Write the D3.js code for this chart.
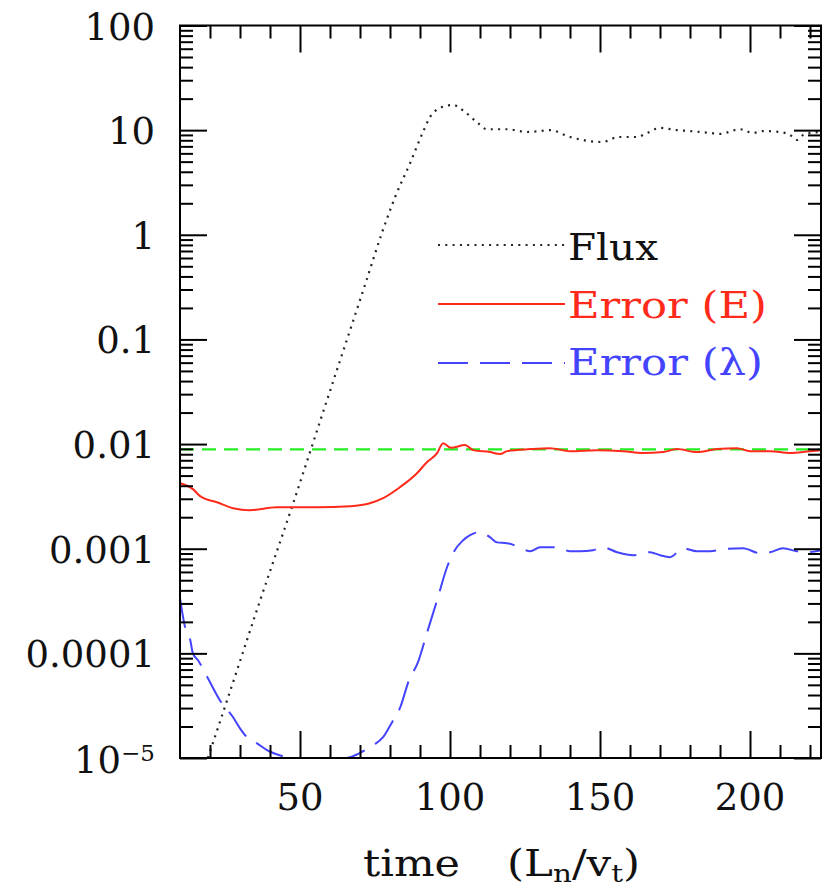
<!DOCTYPE html>
<html>
<head>
<meta charset="utf-8">
<script src="https://cdn.jsdelivr.net/npm/d3@7"></script>
<style>
  html, body { margin: 0; padding: 0; background: #fff; }
  svg { display: block; }
  text { font-family: "DejaVu Serif", serif; }
</style>
</head>
<body>
<svg id="chart" width="823" height="890"></svg>
<script>
// ---------------- data ----------------
const xMajorTicks = [50, 100, 150, 200];
const xMinorTicks = [20, 30, 40, 60, 70, 80, 90, 110, 120, 130, 140, 160, 170, 180, 190, 210, 220];
const yMajorTicks = [1e-5, 1e-4, 1e-3, 1e-2, 1e-1, 1, 10, 100];
const yTickLabels = ["10^-5", "0.0001", "0.001", "0.01", "0.1", "1", "10", "100"];
const thresholdValue = 0.0089;

const seriesNames = ["Flux", "Error (E)", "Error (λ)"];

const fluxT = [19.3, 25.7, 36.7, 47.3, 59, 72.3, 77.3, 81.7, 86.7, 91, 93.3, 96.7, 101, 105, 109, 112.3, 119, 125.7, 130, 133.3, 140, 150.7, 153.3, 155.7, 162.3, 165.7, 170, 175.7, 180, 186.7, 190, 196.7, 201, 204.3, 210, 213.3, 215.7, 217.7, 220, 223.7];
const fluxV = [1e-5, 3.56e-5, 3.2e-4, 0.0025, 0.0263, 0.378, 1.04, 2.29, 4.84, 9.6, 13.3, 16.3, 17.4, 14.9, 11.9, 10.2, 10.2, 9.6, 9.8, 10.0, 8.6, 7.7, 8.05, 8.6, 8.6, 9.4, 10.5, 10.0, 9.8, 9.4, 9.2, 10.2, 9.4, 9.8, 9.6, 9.0, 8.05, 9.0, 9.4, 9.6];

const errET = [10, 14.3, 16.7, 22.3, 27.7, 33.3, 42.3, 55.7, 66.7, 73.3, 77.7, 83.3, 89, 92.3, 95.7, 97.7, 100.3, 105, 107.7, 113.3, 116.7, 119, 126.7, 133.3, 140, 149, 157.7, 164.3, 171, 175.7, 182.3, 189, 195.7, 200, 206.7, 213.3, 220, 223.7];
const errEV = [0.00423, 0.00371, 0.00318, 0.00278, 0.00244, 0.00233, 0.00249, 0.00249, 0.00255, 0.00272, 0.00304, 0.00387, 0.00527, 0.00671, 0.00818, 0.0102, 0.0092, 0.0098, 0.00875, 0.00838, 0.00802, 0.00856, 0.00895, 0.00914, 0.00856, 0.00875, 0.00856, 0.0082, 0.00838, 0.00895, 0.00838, 0.00895, 0.00914, 0.00856, 0.00856, 0.0082, 0.00856, 0.00875];

const errLT = [10, 11.7, 13.3, 14.3, 16, 19.3, 23.3, 27.7, 30, 32.3, 35.7, 39, 44.3, 49.3, 55, 61, 66.7, 71, 74.3, 77.7, 80.7, 83.3, 86.3, 89.3, 92.3, 95.7, 99, 101, 104.3, 106.7, 110, 113.3, 115.7, 119, 123.3, 126.7, 130, 135.7, 140, 143.3, 147.7, 151, 155.7, 161, 166.7, 170, 173.3, 177.7, 182.3, 186.7, 191, 197.7, 203.3, 206.7, 211, 215.7, 219, 223.7];
const errLV = [3.37e-4, 1.78e-4, 1.39e-4, 1.0e-4, 8.6e-5, 5.78e-5, 3.56e-5, 2.45e-5, 1.92e-5, 1.58e-5, 1.38e-5, 1.19e-5, 1.04e-5, 0.98e-5, 0.97e-5, 0.97e-5, 1.02e-5, 1.16e-5, 1.32e-5, 1.58e-5, 2.2e-5, 2.99e-5, 5.5e-5, 8.2e-5, 1.56e-4, 3.22e-4, 6.65e-4, 9.06e-4, 1.2e-3, 1.35e-3, 1.44e-3, 1.29e-3, 1.15e-3, 1.13e-3, 1.03e-3, 9.46e-4, 1.03e-3, 1.03e-3, 9.46e-4, 9.46e-4, 9.68e-4, 1.03e-3, 9.26e-4, 8.67e-4, 9.26e-4, 8.67e-4, 8.3e-4, 1.01e-3, 9.46e-4, 9.46e-4, 9.9e-4, 1.01e-3, 9.06e-4, 9.26e-4, 1.01e-3, 9.46e-4, 9.26e-4, 9.68e-4];

// ---------------- layout ----------------
const svg = d3.select("#chart");
const pL = 180, pR = 821, pT = 25.5, pB = 758;
const x = d3.scaleLinear().domain([10, 10 + (pR - pL) / 3]).range([pL, pR]);
const y = d3.scaleLog().domain([1e-5, 100]).range([pB, pT]);

const RED = "#ff2a1a", BLUE = "#4444ff", GREEN = "#22ee22", BLACK = "#000";

svg.append("clipPath").attr("id", "clip")
  .append("rect").attr("x", pL).attr("y", pT).attr("width", pR - pL).attr("height", pB - pT);

const plot = svg.append("g").attr("clip-path", "url(#clip)");

plot.append("line")
  .attr("x1", pL).attr("x2", pR)
  .attr("y1", y(thresholdValue)).attr("y2", y(thresholdValue))
  .attr("stroke", GREEN).attr("stroke-width", 2.2).attr("stroke-dasharray", "14,8");

const line = d3.line().x(d => x(d[0])).y(d => y(d[1])).curve(d3.curveMonotoneX);
const zip = (a, b) => a.map((t, i) => [t, b[i]]);

plot.append("path").datum(zip(fluxT, fluxV))
  .attr("d", line).attr("fill", "none").attr("stroke", "#222")
  .attr("stroke-width", 2.2).attr("stroke-dasharray", "2,5.3");

plot.append("path").datum(zip(errET, errEV))
  .attr("d", line).attr("fill", "none").attr("stroke", RED).attr("stroke-width", 2);

plot.append("path").datum(zip(errLT, errLV))
  .attr("d", line).attr("fill", "none").attr("stroke", BLUE)
  .attr("stroke-width", 2).attr("stroke-dasharray", "30,12");

// ---------------- axes ----------------
const yMinor = [];
for (let e = -5; e < 2; e++) for (let m = 2; m <= 9; m++) yMinor.push(m * Math.pow(10, e));

function styleAxis(g) {
  g.select(".domain").remove();
  g.selectAll(".tick line").attr("stroke", BLACK).attr("stroke-width", 2);
  g.selectAll(".tick text").remove();
}

svg.append("g").attr("transform", `translate(0,${pB})`)
  .call(d3.axisBottom(x).tickValues(xMajorTicks).tickSize(-27)).call(styleAxis);
svg.append("g").attr("transform", `translate(0,${pB})`)
  .call(d3.axisBottom(x).tickValues(xMinorTicks).tickSize(-13)).call(styleAxis);
svg.append("g").attr("transform", `translate(0,${pT})`)
  .call(d3.axisTop(x).tickValues(xMajorTicks).tickSize(-27)).call(styleAxis);
svg.append("g").attr("transform", `translate(0,${pT})`)
  .call(d3.axisTop(x).tickValues(xMinorTicks).tickSize(-13)).call(styleAxis);
svg.append("g").attr("transform", `translate(${pL},0)`)
  .call(d3.axisLeft(y).tickValues(yMajorTicks).tickSize(-27)).call(styleAxis);
svg.append("g").attr("transform", `translate(${pL},0)`)
  .call(d3.axisLeft(y).tickValues(yMinor).tickSize(-13)).call(styleAxis);
svg.append("g").attr("transform", `translate(${pR},0)`)
  .call(d3.axisRight(y).tickValues(yMajorTicks).tickSize(-27)).call(styleAxis);
svg.append("g").attr("transform", `translate(${pR},0)`)
  .call(d3.axisRight(y).tickValues(yMinor).tickSize(-13)).call(styleAxis);

svg.append("rect").attr("x", pL).attr("y", pT)
  .attr("width", pR - pL).attr("height", pB - pT)
  .attr("fill", "none").attr("stroke", BLACK).attr("stroke-width", 2);

// tick labels
const FS = 37;
xMajorTicks.forEach(v => {
  svg.append("text").attr("x", x(v)).attr("y", 810)
    .attr("text-anchor", "middle").attr("font-size", FS).attr("fill", "#111").text(v);
});
yMajorTicks.forEach((v, i) => {
  const lab = yTickLabels[i];
  const t = svg.append("text").attr("x", 155).attr("y", y(v) + 14)
    .attr("text-anchor", "end").attr("font-size", FS).attr("fill", "#111");
  if (lab.includes("^")) {
    const [base, exp] = lab.split("^");
    t.attr("y", y(v) + 15);
    t.append("tspan").text(base);
    t.append("tspan").attr("font-size", 23).attr("dy", -12).text(exp.replace("-", "\u2212"));
  } else {
    t.text(lab);
  }
});

// x-axis title
svg.append("text").attr("x", 363).attr("y", 876).attr("font-size", FS).attr("fill", "#111")
  .attr("textLength", 97).attr("lengthAdjust", "spacingAndGlyphs").text("time");
const title = svg.append("text").attr("x", 507).attr("y", 876).attr("font-size", FS).attr("fill", "#111")
  .attr("textLength", 133).attr("lengthAdjust", "spacingAndGlyphs");
title.append("tspan").text("(L");
title.append("tspan").attr("font-size", 25).attr("dy", 6).text("n");
title.append("tspan").attr("font-size", FS).attr("dy", -6).text("/v");
title.append("tspan").attr("font-size", 25).attr("dy", 6).text("t");
title.append("tspan").attr("font-size", FS).attr("dy", -6).text(")");

// legend
const legendRows = [
  { name: seriesNames[0], color: "#222", textColor: "#111", dash: "2,5.3", ly: 245, ty: 260, w: 90 },
  { name: seriesNames[1], color: RED, textColor: RED, dash: null, ly: 304, ty: 318, w: 199 },
  { name: seriesNames[2], color: BLUE, textColor: BLUE, dash: "30,12", ly: 363, ty: 375, w: 195 }
];
legendRows.forEach(r => {
  const l = svg.append("line").attr("x1", 438).attr("x2", 565)
    .attr("y1", r.ly).attr("y2", r.ly)
    .attr("stroke", r.color).attr("stroke-width", 2);
  if (r.dash) l.attr("stroke-dasharray", r.dash);
  svg.append("text").attr("x", 568).attr("y", r.ty)
    .attr("font-size", FS).attr("fill", r.textColor)
    .attr("textLength", r.w).attr("lengthAdjust", "spacingAndGlyphs").text(r.name);
});
</script>
</body>
</html>
